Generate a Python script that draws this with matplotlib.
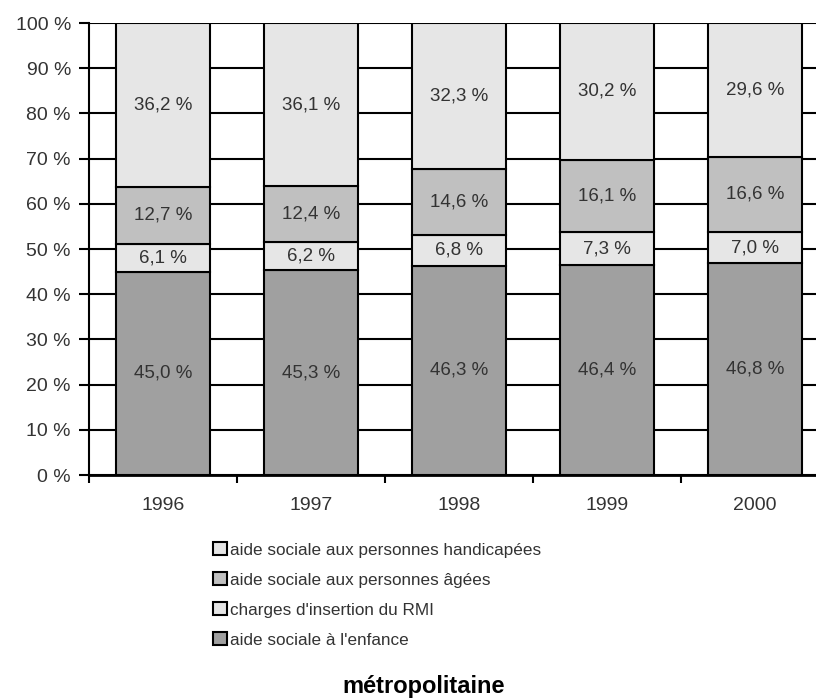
import matplotlib.pyplot as plt
import numpy as np
from matplotlib.patches import Patch

plt.rcParams['font.family'] = ['Liberation Sans', 'DejaVu Sans']

years = ["1996", "1997", "1998", "1999", "2000"]
enfance = [45.0, 45.3, 46.3, 46.4, 46.8]
rmi = [6.1, 6.2, 6.8, 7.3, 7.0]
agees = [12.7, 12.4, 14.6, 16.1, 16.6]
handicapees = [36.2, 36.1, 32.3, 30.2, 29.6]

series = [
    ("aide sociale à l'enfance", enfance, "#a0a0a0"),
    ("charges d'insertion du RMI", rmi, "#e6e6e6"),
    ("aide sociale aux personnes âgées", agees, "#c0c0c0"),
    ("aide sociale aux personnes handicapées", handicapees, "#e6e6e6"),
]

txt = "#333333"
W, H = 816, 700
fig = plt.figure(figsize=(W / 100, H / 100), dpi=100)
ax = fig.add_axes([89 / W, 1 - 475 / H, (829 - 89) / W, (475 - 23) / H])

x = np.arange(len(years))
bottom = np.zeros(len(years))
for name, vals, col in series:
    vals = np.array(vals)
    ax.bar(x, vals, width=0.635, bottom=bottom, color=col, edgecolor="black",
           linewidth=1.5, zorder=3)
    for xi, b, v in zip(x, bottom, vals):
        ax.text(xi, b + v / 2, f"{v:.1f} %".replace(".", ","), ha="center",
                va="center", fontsize=13.5, color=txt, zorder=4)
    bottom += vals

ax.set_xlim(-0.5, len(years) - 0.5)
ax.set_ylim(0, 100)
ax.set_yticks(np.arange(0, 101, 10))
ax.set_yticklabels([f"{v} %" for v in range(0, 101, 10)], fontsize=14, color=txt)
ax.yaxis.grid(True, color="black", linewidth=1.5, zorder=0)
ax.set_axisbelow(True)

ax.set_xticks(x)
ax.set_xticklabels(years, fontsize=14, color=txt)
ax.set_xticks(np.arange(len(years) + 1) - 0.5, minor=True)
ax.tick_params(axis="x", which="major", length=0, pad=16)
ax.tick_params(axis="x", which="minor", length=6, width=1.5, direction="out")
ax.tick_params(axis="y", length=7, width=1.5, pad=6)

for s in ["top", "right"]:
    ax.spines[s].set_visible(False)
ax.spines["left"].set_linewidth(1.5)
ax.spines["bottom"].set_linewidth(2)

handles = [Patch(facecolor=col, edgecolor="black", linewidth=1.5, label=name)
           for name, vals, col in reversed(series)]
fig.legend(handles=handles, loc="upper left", bbox_to_anchor=(198 / W, 1 - 527 / H),
           frameon=False, fontsize=12.3, labelcolor=txt, handlelength=0.8,
           handleheight=0.8, handletextpad=0.15, labelspacing=0.85)

fig.text(424 / W, 1 - 686 / H, "métropolitaine", ha="center", va="center",
         fontsize=17, fontweight="bold", color="black")

fig.savefig("out.png", dpi=100)
